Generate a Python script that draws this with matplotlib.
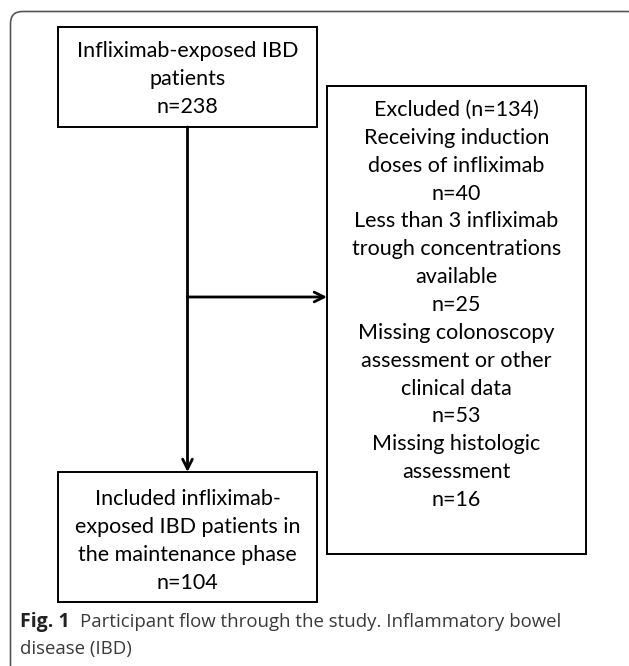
import matplotlib
matplotlib.use("Agg")
import matplotlib.pyplot as plt
from matplotlib.patches import FancyBboxPatch, Rectangle

# ---- data ----
total_n = 238
included_n = 104
excluded_n = 134
exclusion_reasons = ["Receiving induction\ndoses of infliximab",
                     "Less than 3 infliximab\ntrough concentrations\navailable",
                     "Missing colonoscopy\nassessment or other\nclinical data",
                     "Missing histologic\nassessment"]
exclusion_counts = [40, 25, 53, 16]
top_label = "Infliximab-exposed IBD\npatients"
bottom_label = "Included infliximab-\nexposed IBD patients in\nthe maintenance phase"
caption_bold = "Fig. 1"
caption_text = "Participant flow through the study. Inflammatory bowel\ndisease (IBD)"

W, H = 629, 666
fig = plt.figure(figsize=(W / 100, H / 100), dpi=100)
ax = fig.add_axes([0, 0, 1, 1])
ax.set_xlim(0, W)
ax.set_ylim(H, 0)
ax.axis("off")

FONT = "Lato"
FS = 15.5
LS = 1.49

# outer frame (right and bottom edges fall outside the picture)
frame = FancyBboxPatch((10.5, 11.5), 628, 700, boxstyle="round,pad=0,rounding_size=12",
                       fc="white", ec="#555555", lw=1.2)
ax.add_patch(frame)

def box(x0, y0, x1, y1):
    ax.add_patch(Rectangle((x0, y0), x1 - x0, y1 - y0, fc="white", ec="black", lw=1.4))

# top box
box(58, 27, 317, 127)
ax.text(187.5, 79, f"{top_label}\nn={total_n}", ha="center", va="center",
        fontsize=FS, family=FONT, linespacing=LS)

# right box
box(327, 86, 586, 554)
lines = [f"Excluded (n={excluded_n})"]
for r, c in zip(exclusion_reasons, exclusion_counts):
    lines.append(r)
    lines.append(f"n={c}")
ax.text(456.5, 305, "\n".join(lines), ha="center", va="center",
        fontsize=FS, family=FONT, linespacing=LS)

# bottom box
box(58, 472, 317, 602)
ax.text(187.5, 541, f"{bottom_label}\nn={included_n}", ha="center", va="center",
        fontsize=FS, family=FONT, linespacing=LS)

# arrows
ax.annotate("", xy=(187.5, 472), xytext=(187.5, 127),
            arrowprops=dict(arrowstyle="->,head_length=0.7,head_width=0.35", lw=2, color="black",
                            shrinkA=0, shrinkB=0))
ax.annotate("", xy=(327, 297), xytext=(187.5, 297),
            arrowprops=dict(arrowstyle="->,head_length=0.7,head_width=0.35", lw=2, color="black",
                            shrinkA=0, shrinkB=0))

# caption
ax.text(20, 622, caption_bold, ha="left", va="center", fontsize=14, family="Open Sans",
        fontweight="bold", color="#222222")
ax.text(80, 622, caption_text.split("\n")[0], ha="left", va="center", fontsize=13.4,
        family="Open Sans", color="#3a3a3a")
ax.text(20, 649, caption_text.split("\n")[1], ha="left", va="center", fontsize=13.4,
        family="Open Sans", color="#3a3a3a")

fig.savefig("out.png", dpi=100)
